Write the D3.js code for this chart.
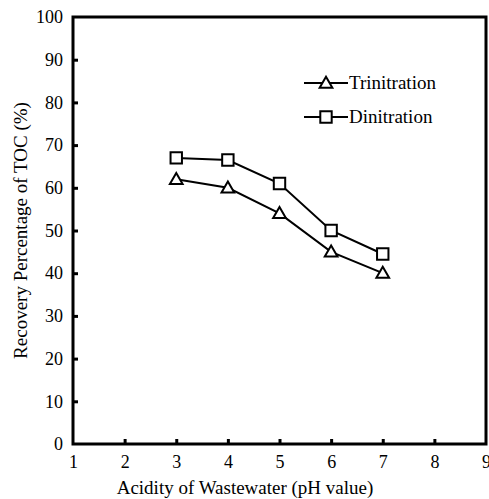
<!DOCTYPE html>
<html>
<head>
<meta charset="utf-8">
<script src="https://cdn.jsdelivr.net/npm/d3@7"></script>
<style>
    body { margin: 0; background: #fff; }
    svg text { font-family: "Liberation Serif", "Times New Roman", Times, serif; }
</style>
</head>
<body>
<div id="chart"></div>
<script>
    // 数据
    const phValues = [3, 4, 5, 6, 7];
    const trinitration = [62, 60, 54, 45, 40];
    const dinitration = [67, 66.5, 61, 50, 44.5];
    const xTicks = [1, 2, 3, 4, 5, 6, 7, 8, 9];
    const yTicks = [0, 10, 20, 30, 40, 50, 60, 70, 80, 90, 100];

    const width = 489, height = 499;
    const margin = { left: 73, right: 3, top: 17, bottom: 55 };
    const serif = '"Liberation Serif", "Times New Roman", Times, serif';

    const svg = d3.select('#chart')
        .append('svg')
        .attr('width', width)
        .attr('height', height)
        .attr('font-family', serif);

    const x = d3.scaleLinear().domain([1, 9]).range([margin.left, width - margin.right]);
    const y = d3.scaleLinear().domain([0, 100]).range([height - margin.bottom, margin.top]);

    // 坐标轴
    const xAxis = svg.append('g')
        .attr('transform', `translate(0,${y(0)})`)
        .call(d3.axisBottom(x).tickValues(xTicks).tickSizeInner(-5).tickSizeOuter(0).tickPadding(11));
    const yAxis = svg.append('g')
        .attr('transform', `translate(${x(1)},0)`)
        .call(d3.axisLeft(y).tickValues(yTicks).tickSizeInner(-5).tickSizeOuter(0).tickPadding(10));

    [xAxis, yAxis].forEach(g => {
        g.attr('font-family', serif);
        g.select('.domain').remove();
        g.selectAll('.tick line').attr('stroke', '#000').attr('stroke-width', 3);
        g.selectAll('.tick text').attr('font-size', 18).attr('fill', '#000');
    });
    // 两端刻度不画线
    xAxis.selectAll('.tick').filter(d => d === 1 || d === 9).select('line').remove();
    yAxis.selectAll('.tick').filter(d => d === 0 || d === 100).select('line').remove();

    // 边框
    svg.append('rect')
        .attr('x', x(1)).attr('y', y(100))
        .attr('width', x(9) - x(1)).attr('height', y(0) - y(100))
        .attr('fill', 'none').attr('stroke', '#000').attr('stroke-width', 3);

    // 轴标题
    svg.append('text')
        .attr('x', 245).attr('y', 494)
        .attr('text-anchor', 'middle').attr('font-size', 19)
        .text('Acidity of Wastewater (pH value)');
    svg.append('text')
        .attr('transform', `translate(27,${(y(0) + y(100)) / 2}) rotate(-90)`)
        .attr('text-anchor', 'middle').attr('font-size', 19)
        .text('Recovery Percentage of TOC (%)');

    const line = d3.line().x((d, i) => x(phValues[i])).y(d => y(d));
    const tri = d3.symbol().type(d3.symbolTriangle).size(70);
    const sq = d3.symbol().type(d3.symbolSquare).size(130);

    const series = [
        { name: 'Trinitration', values: trinitration, sym: tri, dy: 1 },
        { name: 'Dinitration', values: dinitration, sym: sq, dy: 0 }
    ];

    series.forEach(s => {
        svg.append('path')
            .attr('d', line(s.values))
            .attr('fill', 'none').attr('stroke', '#000').attr('stroke-width', 2);
        svg.selectAll(null)
            .data(s.values)
            .enter().append('path')
            .attr('d', s.sym)
            .attr('transform', (d, i) => `translate(${x(phValues[i])},${y(d) + s.dy})`)
            .attr('fill', '#fff').attr('stroke', '#000').attr('stroke-width', 2);
    });

    // 图例
    const legend = svg.append('g');
    series.forEach((s, i) => {
        const ly = 83 + i * 34;
        legend.append('line')
            .attr('x1', 304).attr('x2', 348).attr('y1', ly).attr('y2', ly)
            .attr('stroke', '#000').attr('stroke-width', 2);
        legend.append('path')
            .attr('d', s.sym)
            .attr('transform', `translate(326,${ly + s.dy})`)
            .attr('fill', '#fff').attr('stroke', '#000').attr('stroke-width', 2);
        legend.append('text')
            .attr('x', 349).attr('y', ly + 6)
            .attr('font-size', 19)
            .text(s.name);
    });
</script>
</body>
</html>
